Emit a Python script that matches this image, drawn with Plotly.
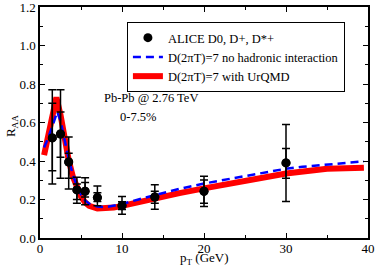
import plotly.graph_objects as go

# ALICE D-meson data
pt_data = [1.5, 2.5, 3.5, 4.5, 5.5, 7.0, 10.0, 14.0, 20.0, 30.0]
raa_data = [0.52, 0.54, 0.395, 0.25, 0.243, 0.21, 0.168, 0.213, 0.243, 0.39]
err_out_up = [0.25, 0.23, 0.13, 0.065, 0.07, 0.06, 0.047, 0.064, 0.078, 0.20]
err_out_dn = [0.24, 0.23, 0.14, 0.07, 0.07, 0.042, 0.045, 0.063, 0.08, 0.20]
err_in_up = [0.18, 0.115, 0.045, 0.03, 0.045, 0.025, 0.02, 0.03, 0.058, 0.075]
err_in_dn = [0.17, 0.12, 0.085, 0.05, 0.03, 0.02, 0.02, 0.033, 0.063, 0.08]

# Model: no hadronic interaction (blue dashed)
pt_blue = [0.5, 1.0, 1.5, 2.1, 2.5, 3.0, 3.5, 4.0, 4.5, 5.0, 5.5, 6.0, 7.0, 8.0, 9.0, 10.0,
           12.0, 14.0, 17.0, 20.0, 25.0, 30.0, 32.0, 35.0, 38.0, 39.5]
raa_blue = [0.47, 0.52, 0.58, 0.655, 0.61, 0.50, 0.41, 0.33, 0.27, 0.225, 0.195, 0.178, 0.163,
            0.16, 0.167, 0.177, 0.2, 0.222, 0.255, 0.283, 0.322, 0.36, 0.37, 0.382, 0.393, 0.398]

# Model: with UrQMD (red thick)
pt_red = [0.5, 1.0, 1.5, 2.0, 2.5, 3.0, 3.5, 4.0, 4.5, 5.0, 5.5, 6.0, 7.0, 8.0, 9.0, 10.0,
          12.0, 14.0, 17.0, 20.0, 25.0, 30.0, 35.0, 38.0, 39.5]
raa_red = [0.43, 0.53, 0.63, 0.73, 0.64, 0.51, 0.405, 0.32, 0.26, 0.215, 0.185, 0.167, 0.153,
           0.152, 0.158, 0.167, 0.188, 0.207, 0.233, 0.258, 0.30, 0.335, 0.36, 0.368, 0.365]

FONT = "Liberation Serif, Times New Roman, serif"

fig = go.Figure()

fig.add_trace(go.Scatter(
    x=pt_red, y=raa_red, mode="lines", name="D(2πT)=7 with UrQMD",
    line=dict(color="#ff0000", width=6), legendrank=3))

fig.add_trace(go.Scatter(
    x=pt_blue, y=raa_blue, mode="lines", name="D(2πT)=7 no hadronic interaction",
    line=dict(color="#0000ff", width=2.5, dash="8px,5px"),
    legendrank=2))

fig.add_trace(go.Scatter(
    x=pt_data, y=raa_data, mode="markers", showlegend=False,
    marker=dict(color="black", size=9),
    error_y=dict(type="data", symmetric=False, array=err_out_up, arrayminus=err_out_dn,
                 color="black", thickness=1.5, width=4)))

fig.add_trace(go.Scatter(
    x=pt_data, y=raa_data, mode="markers", name="ALICE D0, D+, D*+",
    marker=dict(color="black", size=9),
    error_y=dict(type="data", symmetric=False, array=err_in_up, arrayminus=err_in_dn,
                 color="black", thickness=1.5, width=4), legendrank=1))

fig.add_annotation(x=13.5, y=0.727, xref="x", yref="y", text="Pb-Pb @ 2.76 TeV",
                   showarrow=False, font=dict(family=FONT, size=12.5, color="black"))
fig.add_annotation(x=12.0, y=0.63, xref="x", yref="y", text="0-7.5%",
                   showarrow=False, font=dict(family=FONT, size=12.5, color="black"))

# axis titles as annotations for precise placement
fig.add_annotation(x=0.5, y=-0.087, xref="paper", yref="paper", text="p<sub>T</sub> (GeV)",
                   showarrow=False, xanchor="center", yanchor="middle",
                   font=dict(family=FONT, size=13, color="black"))
fig.add_annotation(x=-0.085, y=0.485, xref="paper", yref="paper", text="R<sub>AA</sub>",
                   showarrow=False, xanchor="center", yanchor="middle", textangle=-90,
                   font=dict(family=FONT, size=13, color="black"))

axis_common = dict(
    showgrid=False, zeroline=False, showline=True, linecolor="black", linewidth=1.5,
    mirror="ticks", ticks="inside", ticklen=5, tickwidth=1.2, tickcolor="black",
    tickfont=dict(family=FONT, size=13, color="black"), automargin=False,
    ticklabeloverflow="allow",
)

fig.update_xaxes(range=[0, 40], tickvals=[0, 10, 20, 30, 40],
                 minor=dict(ticks="inside", ticklen=3, tickwidth=1.2, tickcolor="black", dtick=5),
                 ticklabelstandoff=-2,
                 **axis_common)
fig.update_yaxes(range=[0, 1.2], tickvals=[0, 0.2, 0.4, 0.6, 0.8, 1.0, 1.2],
                 ticktext=["0.0", "0.2", "0.4", "0.6", "0.8", "1.0", "1.2"],
                 minor=dict(ticks="inside", ticklen=3, tickwidth=1.2, tickcolor="black", dtick=0.1),
                 **axis_common)

fig.update_layout(
    width=378, height=270,
    margin=dict(l=40, r=10, t=7, b=32),
    paper_bgcolor="white", plot_bgcolor="white",
    showlegend=True,
    legend=dict(x=0.265, y=0.935, xanchor="left", yanchor="top",
                bordercolor="black", borderwidth=1, bgcolor="white",
                font=dict(family=FONT, size=12.5, color="black"),
                tracegroupgap=0, itemwidth=30),
)

fig.write_html("out.html", config={"displayModeBar": False},
               post_script="document.body.style.margin='0';")
